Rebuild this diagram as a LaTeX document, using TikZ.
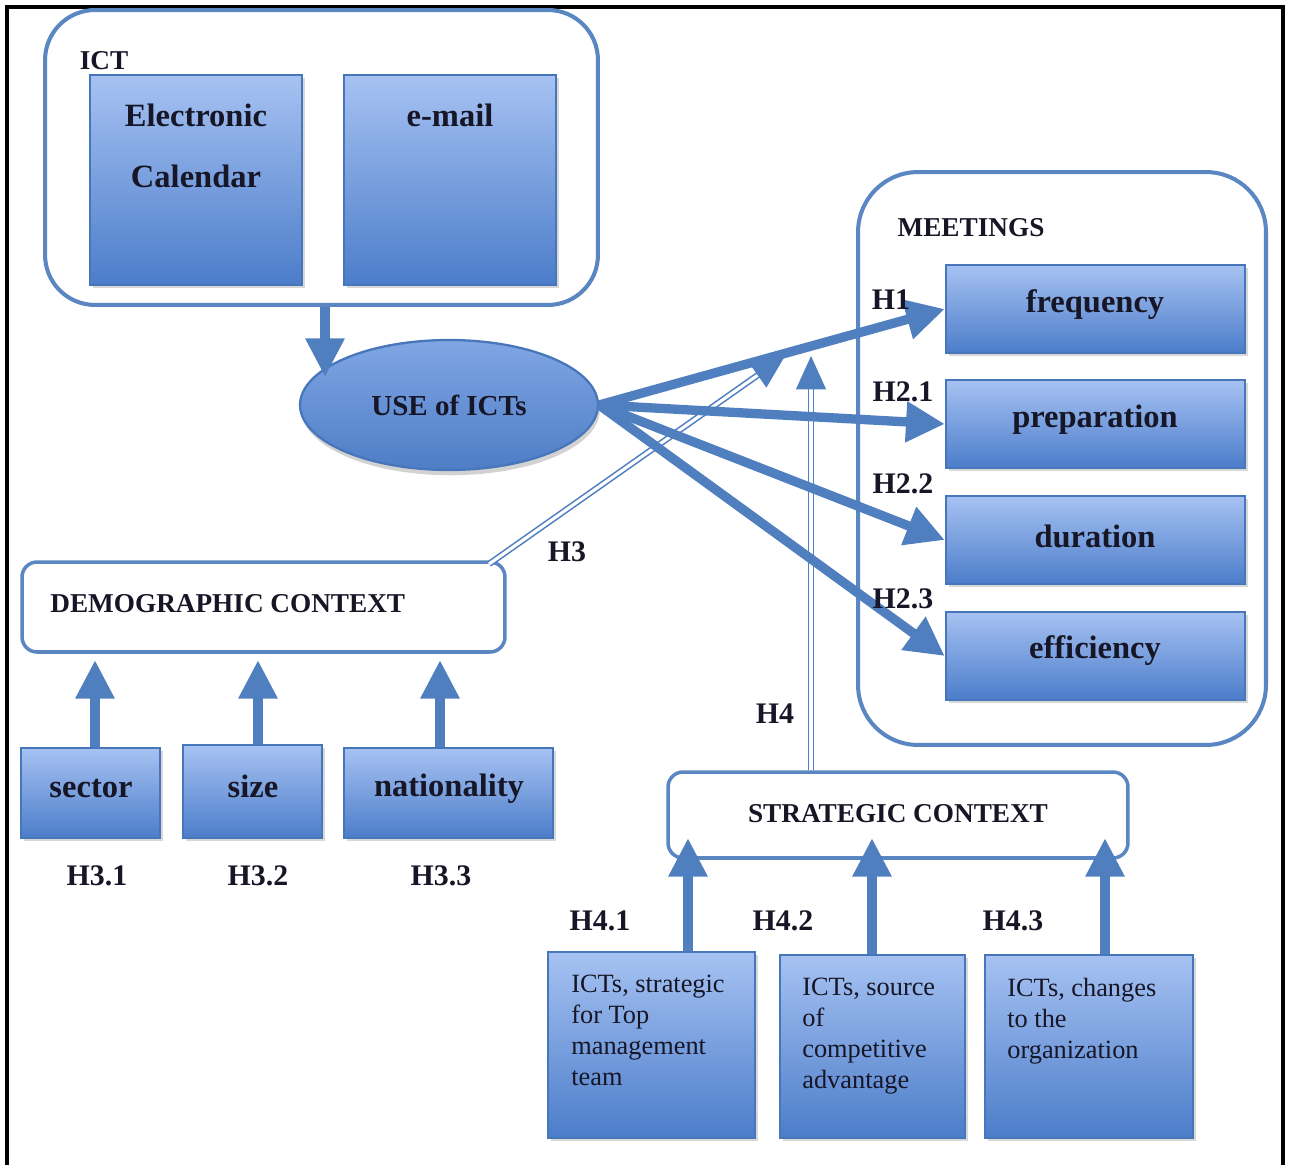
\documentclass[tikz,border=0pt]{standalone}
\usepackage{fontspec}
\setmainfont{Liberation Serif}
\usetikzlibrary{arrows.meta,shapes.geometric,shadows}
\definecolor{arrblue}{RGB}{79,127,191}
\definecolor{linblue}{RGB}{90,134,193}
\definecolor{boxtop}{RGB}{166,194,242}
\definecolor{boxbot}{RGB}{76,125,202}
\definecolor{boxedge}{RGB}{72,118,186}
\definecolor{elltop}{RGB}{128,166,228}
\definecolor{ellbot}{RGB}{78,125,198}
\definecolor{ink}{RGB}{22,22,38}
\newcommand\mylow{\bfseries\fontsize{18.5}{22}\selectfont}
\newcommand\mycap{\bfseries\fontsize{15.5}{19}\selectfont}
\newcommand\myhyp{\bfseries\fontsize{17}{20}\selectfont}
\newcommand\mysmall{\fontsize{15}{17.6}\selectfont}
\begin{document}
\begin{tikzpicture}[x=0.02cm,y=-0.02cm,
  container/.style={draw=linblue, line width=2.3pt, rounded corners=1cm, fill=white, inner sep=0},
  ctxbox/.style={draw=linblue, line width=2pt, rounded corners=0.3cm, fill=white, inner sep=0},
  bluebox/.style={draw=boxedge, line width=1.5pt, top color=boxtop, bottom color=boxbot, inner sep=0,
    drop shadow={opacity=0.3, shadow xshift=1.5pt, shadow yshift=-1.5pt}, text=ink, font=\mylow},
  lowtxt/.style={text=ink, font=\mylow, inner sep=0},
  captxt/.style={text=ink, font=\mycap, inner sep=0},
  hyp/.style={text=ink, font=\myhyp, inner sep=0},
  smalltxt/.style={text=ink, font=\mysmall, inner sep=0, align=left, anchor=north west},
  thickarr/.style={draw=arrblue, line width=5.3pt, -{Triangle[width=22pt,length=22pt]}},
  uparr/.style={draw=arrblue, line width=5.4pt, -{Triangle[width=21pt,length=22pt]}},
  dblarr/.style={draw=arrblue, double=white, double distance=1.8pt, line width=0.9pt,
    -{Triangle[width=17pt,length=19pt]}}
]
\useasboundingbox (0,0) rectangle (1290,1165);
\fill[white] (0,0) rectangle (1290,1165);
% outer frame
\draw[line width=1.8pt, black] (7,1170) -- (7,7) -- (1283,7) -- (1283,1170);

% ICT container
\node[container, minimum width=11.06cm, minimum height=5.9cm] (ict) at (321.5,157.5) {};
\node[captxt] (ictlbl) at (104,61) {ICT};
\node[bluebox, minimum width=4.24cm, minimum height=4.2cm] (ecal) at (196,180) {};
\node[bluebox, minimum width=4.24cm, minimum height=4.2cm] (email) at (450,180) {};
\node[lowtxt] (ecalt1) at (196,115) {Electronic};
\node[lowtxt] (ecalt2) at (196,176) {Calendar};
\node[lowtxt] (emailt) at (450,115) {e-mail};

% USE of ICTs
\node[ellipse, draw=boxedge, line width=1.3pt, top color=elltop, bottom color=ellbot,
  minimum width=5.96cm, minimum height=2.6cm, inner sep=0,
  drop shadow={opacity=0.35, shadow xshift=1pt, shadow yshift=-3pt},
  text=ink, font=\bfseries\fontsize{16.5}{20}\selectfont] (use) at (449,405) {USE of ICTs};

% MEETINGS container
\node[container, rounded corners=1.2cm, minimum width=8.16cm, minimum height=11.46cm] (meet) at (1062,458.5) {};
\node[captxt] (meetlbl) at (971,228) {MEETINGS};
\node[bluebox, minimum width=5.98cm, minimum height=1.76cm] (freq) at (1095.5,309) {};
\node[bluebox, minimum width=5.98cm, minimum height=1.76cm] (prep) at (1095.5,424) {};
\node[bluebox, minimum width=5.98cm, minimum height=1.76cm] (dur) at (1095.5,540) {};
\node[bluebox, minimum width=5.98cm, minimum height=1.76cm] (eff) at (1095.5,656) {};
\node[lowtxt] (freqt) at (1095,305) {frequency};
\node[lowtxt] (prept) at (1095,420) {preparation};
\node[lowtxt] (durt) at (1095,536) {duration};
\node[lowtxt] (efft) at (1095,651) {efficiency};

% DEMOGRAPHIC CONTEXT
\node[ctxbox, minimum width=9.66cm, minimum height=1.8cm] (demo) at (263.5,607) {};
\node[captxt, anchor=west] (demot) at (50,604) {DEMOGRAPHIC CONTEXT};
\node[bluebox, minimum width=2.78cm, minimum height=1.8cm] (sector) at (90.5,793) {};
\node[bluebox, minimum width=2.78cm, minimum height=1.86cm] (size) at (252.5,791.5) {};
\node[bluebox, minimum width=4.18cm, minimum height=1.8cm] (nat) at (448.5,793) {};
\node[lowtxt] (sectort) at (91,789) {sector};
\node[lowtxt] (sizet) at (253,786) {size};
\node[lowtxt] (natt) at (449,789) {nationality};

% STRATEGIC CONTEXT
\node[ctxbox, minimum width=9.2cm, minimum height=1.72cm] (strat) at (898,815) {};
\node[captxt] (stratt) at (898,814) {STRATEGIC CONTEXT};
\node[bluebox, minimum width=4.14cm, minimum height=3.72cm] (b1) at (651.5,1045) {};
\node[bluebox, minimum width=3.7cm, minimum height=3.66cm] (b2) at (872.5,1046.5) {};
\node[bluebox, minimum width=4.16cm, minimum height=3.66cm] (b3) at (1089,1046.5) {};
\node[smalltxt] (b1t) at (571,975) {ICTs, strategic\\for Top\\management\\team};
\node[smalltxt] (b2t) at (802,978) {ICTs, source\\of\\competitive\\advantage};
\node[smalltxt] (b3t) at (1007,978) {ICTs, changes\\to the\\organization};

% tip coordinates
\coordinate (u1) at (325,377);
\coordinate (d1) at (95,660);
\coordinate (d2) at (258,660);
\coordinate (d3) at (440,660);
\coordinate (s1) at (688,838);
\coordinate (s2) at (872,838);
\coordinate (s3) at (1105,838);
\coordinate (h3tip) at (785,356);
\coordinate (h4tip) at (811,356);
\coordinate (h3start) at (489,564);

% double-line connectors
\draw[dblarr] (h3start) -- (h3tip);
\draw[dblarr] (strat.north -| h4tip) -- (h4tip);

% thick connectors
\draw[uparr] (ict.south -| u1) -- (u1);
\draw[thickarr] (use.east) -- (freq.west);
\draw[thickarr] (use.east) -- (prep.west);
\draw[thickarr] (use.east) -- (dur.west);
\draw[thickarr] (use.east) -- (eff.west);
\draw[uparr] (sector.north -| d1) -- (d1);
\draw[uparr] (size.north -| d2) -- (d2);
\draw[uparr] (nat.north -| d3) -- (d3);
\draw[uparr] (b1.north -| s1) -- (s1);
\draw[uparr] (b2.north -| s2) -- (s2);
\draw[uparr] (b3.north -| s3) -- (s3);

% hypothesis labels
\node[hyp] (lh1) at (891,300) {H1};
\node[hyp] (lh21) at (903,392) {H2.1};
\node[hyp] (lh22) at (903,484) {H2.2};
\node[hyp] (lh23) at (903,599) {H2.3};
\node[hyp] (lh3) at (567,552) {H3};
\node[hyp] (lh4) at (775,714) {H4};
\node[hyp] (lh31) at (97,876) {H3.1};
\node[hyp] (lh32) at (258,876) {H3.2};
\node[hyp] (lh33) at (441,876) {H3.3};
\node[hyp] (lh41) at (600,921) {H4.1};
\node[hyp] (lh42) at (783,921) {H4.2};
\node[hyp] (lh43) at (1013,921) {H4.3};
\end{tikzpicture}
\end{document}
